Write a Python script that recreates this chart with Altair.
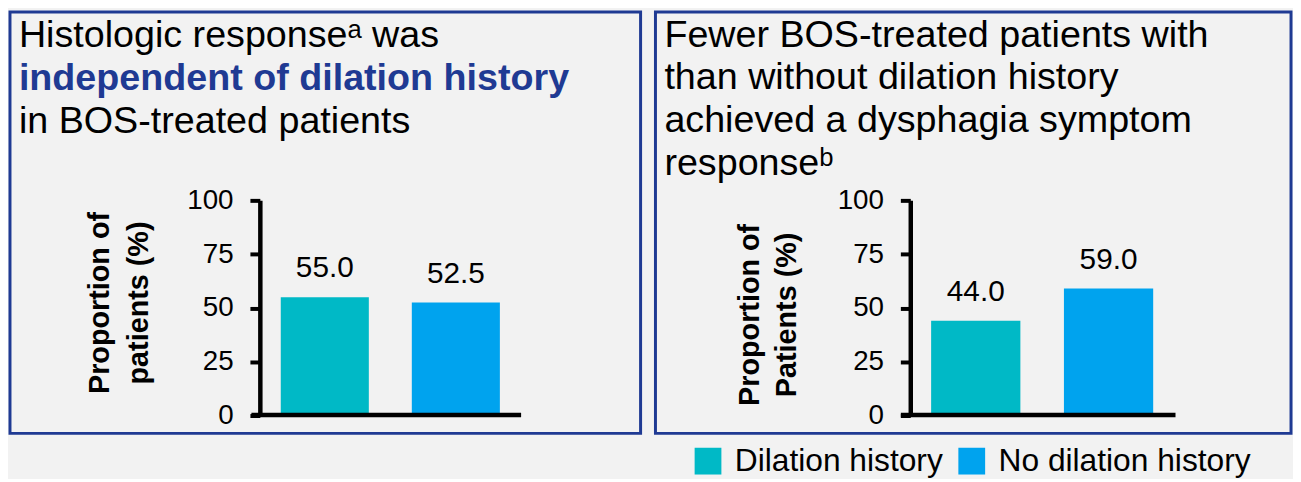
import altair as alt
import pandas as pd

# ---- data ----
categories = ["Dilation history", "No dilation history"]
histologic_pct = [55.0, 52.5]
dysphagia_pct = [44.0, 59.0]
bar_colors = ["#00b9c6", "#00a3ee"]
y_ticks = [0, 25, 50, 75, 100]

left_title_1 = "Histologic response\u1d43 was"
left_title_2 = "independent of dilation history"
left_title_3 = "in BOS-treated patients"
right_title = ["Fewer BOS-treated patients with",
               "than without dilation history",
               "achieved a dysphagia symptom",
               "response\u1d47"]
left_ytitle = ["Proportion of", "patients (%)"]
right_ytitle = ["Proportion of", "Patients (%)"]

FONT = "Liberation Sans"
BLUE = "#1f3a93"
PANEL_H = 425


def text_layer(text, x, y, size=38, weight="normal", color="black", lh=43):
    return alt.Chart(pd.DataFrame({"k": [0]})).mark_text(
        text=text, align="left", baseline="alphabetic", font=FONT,
        fontSize=size, fontWeight=weight, color=color, lineHeight=lh
    ).encode(x=alt.value(x), y=alt.value(y))


def panel(values, width, x_range, align, pad_outer, axis_offset, ytitle,
          title_x, title_y, title_lh, title_layers):
    df = pd.DataFrame({"group": categories, "value": values})
    x = alt.X(
        "group:N", sort=categories,
        scale=alt.Scale(range=x_range, paddingInner=0.328,
                        paddingOuter=pad_outer, align=align),
        axis=alt.Axis(labels=False, ticks=False, title=None, grid=False,
                      domainColor="#000000", domainWidth=4.5, offset=-19,
                      zindex=1),
    )
    y = alt.Y(
        "value:Q",
        scale=alt.Scale(domain=[0, 100], range=[407, 190], nice=False),
        axis=alt.Axis(values=y_ticks, grid=False, offset=axis_offset,
                      domainColor="#000000", domainWidth=4.5, zindex=1,
                      tickColor="#000000", tickWidth=4, tickSize=10,
                      labelFont=FONT, labelFontSize=28, labelColor="black",
                      labelPadding=17,
                      title=ytitle, titleFont=FONT, titleFontSize=29,
                      titleFontWeight="bold", titleColor="black",
                      titleLineHeight=title_lh, titleAngle=270,
                      titleAlign="center", titleBaseline="middle",
                      titleX=title_x, titleY=title_y),
    )
    color = alt.Color(
        "group:N", sort=categories,
        scale=alt.Scale(domain=categories, range=bar_colors),
        legend=alt.Legend(orient="none", legendX=688, legendY=437,
                          direction="horizontal", title=None,
                          symbolType="square", symbolSize=729,
                          symbolStrokeWidth=0, symbolOpacity=1,
                          labelFont=FONT, labelFontSize=32,
                          labelColor="black", labelOffset=11,
                          columnPadding=13, padding=0, labelLimit=400),
    )
    bars = alt.Chart(df).mark_bar(opacity=1).encode(x=x, y=y, color=color)
    labels = alt.Chart(df).mark_text(
        baseline="alphabetic", dy=-20, fontSize=30, font=FONT, color="black"
    ).encode(x=x, y=y, text=alt.Text("value:Q", format=".1f"))
    return alt.layer(bars, labels, *title_layers).properties(
        width=width, height=PANEL_H)


left = panel(
    histologic_pct, 636, [243, 515], 0.59, 0.193, -252, left_ytitle,
    -162, 293, 40,
    [text_layer(left_title_1, 9, 35),
     text_layer(left_title_2, 9, 79, weight="bold", color=BLUE),
     text_layer(left_title_3, 9, 122)],
)
right = panel(
    dysphagia_pct, 641, [247, 524], 0.585, 0.198, -257, right_ytitle,
    -162, 305, 37,
    [text_layer(right_title, 9, 35)],
)

chart = alt.hconcat(left, right, spacing=11).properties(
    padding=0, background="#f2f2f2"
).configure_view(
    stroke=BLUE, strokeWidth=3, fill="#f2f2f2"
)

chart.save("out.html", embed_options={"renderer": "svg", "actions": False})
